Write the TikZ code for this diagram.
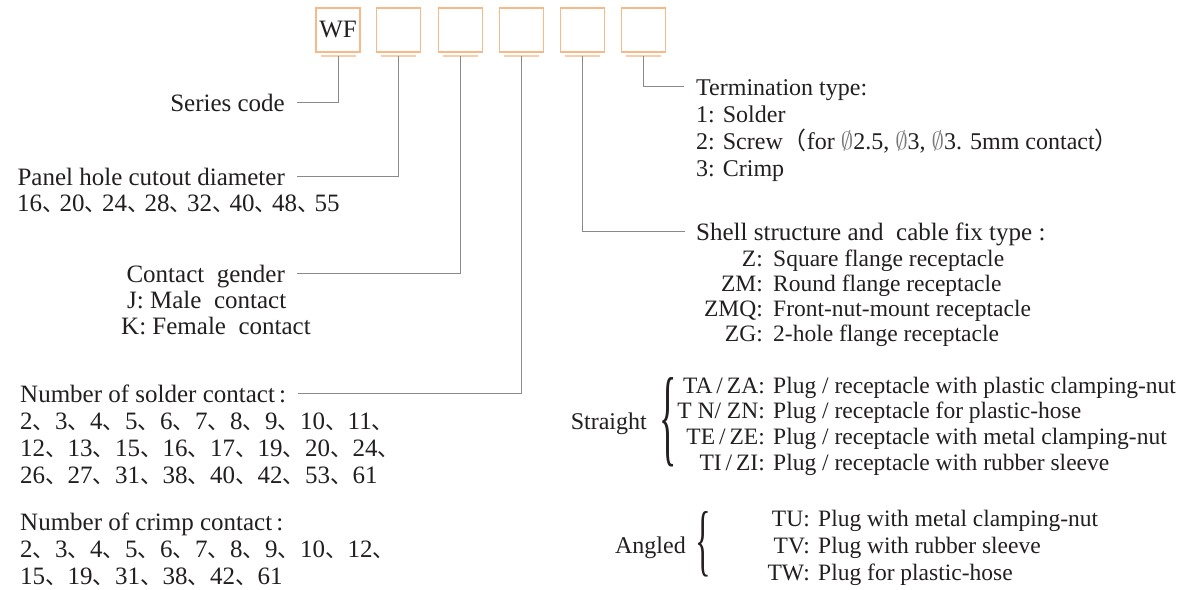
\documentclass[tikz,border=0pt]{standalone}
\usepackage{fontspec}
\usepackage{graphicx}
\setmainfont{Liberation Serif}
\newfontfamily\cjkfont{Noto Sans CJK SC}
\definecolor{boxor}{HTML}{F5B98A}
\definecolor{baror}{HTML}{F9CDA9}
\definecolor{linegray}{HTML}{8A8A8A}
\definecolor{txt}{HTML}{231F20}
\newcommand{\dun}{\makebox[0.9em][l]{\cjkfont\fontsize{22}{22}\selectfont 、}}
\newcommand{\dunn}{\makebox[0.7em][l]{\cjkfont\fontsize{22}{22}\selectfont 、}}
\newcommand{\dia}{{\color{txt!60}$\emptyset$}}
\begin{document}
\begin{tikzpicture}[x=1pt,y=-1pt,
  font=\fontsize{25}{26}\selectfont, text=txt,
  codebox/.style={draw=boxor, line width=1.3pt, minimum width=44pt, minimum height=44pt, inner sep=0pt},
  ubar/.style={fill=baror, minimum width=35pt, minimum height=2.2pt, inner sep=0pt},
  conn/.style={draw=linegray, line width=0.9pt},
  lbl/.style={inner sep=0pt, text height=19pt, text depth=0pt},
  rlbl/.style={lbl, font=\fontsize{23.5}{26}\selectfont},
  mlbl/.style={lbl, font=\fontsize{24}{26}\selectfont},
  bracenode/.style={inner sep=0pt, font=\fontsize{24}{26}\selectfont}
]
\useasboundingbox (0,0) rectangle (1183,589);
\fill[white] (0,0) rectangle (1183,589);

% code boxes
\foreach \i/\x in {1/338,2/398.7,3/460.2,4/521.3,5/582.5,6/643.5}{
  \node[ubar] (u\i) at (\x,56) {};
}
\node[codebox] (b1) at (338,30) {WF};
\node[codebox] (b2) at (398.7,30) {};
\node[codebox] (b3) at (460.2,30) {};
\node[codebox] (b4) at (521.3,30) {};
\node[codebox] (b5) at (582.5,30) {};
\node[codebox] (b6) at (643.5,30) {};

% left column
\node[lbl,anchor=east] (series) at (285,102) {Series code};
\node[lbl,anchor=east] (panel) at (285,176) {Panel hole cutout diameter};
\node[lbl,anchor=west] (panelv) at (17,202) {16\dunn 20\dunn 24\dunn 28\dunn 32\dunn 40\dunn 48\dunn 55};

\node[lbl,anchor=east] (gender) at (285,273) {Contact\ \ gender};
\node[lbl,anchor=west] (male) at (127,299) {J: Male\ \ contact};
\node[lbl,anchor=west] (female) at (121,325) {K: Female\ \ contact};

\node[lbl,anchor=west] (solder) at (20,393) {Number of solder contact\,:};
\node[lbl,anchor=west] (sv1) at (20,420) {2\dun 3\dun 4\dun 5\dun 6\dun 7\dun 8\dun 9\dun 10\dun 11\dun};
\node[lbl,anchor=west] (sv2) at (20,447) {12\dun 13\dun 15\dun 16\dun 17\dun 19\dun 20\dun 24\dun};
\node[lbl,anchor=west] (sv3) at (20,474) {26\dun 27\dun 31\dun 38\dun 40\dun 42\dun 53\dun 61};
\node[lbl,anchor=west] (crimp) at (20,521) {Number of crimp contact\,:};
\node[lbl,anchor=west] (cv1) at (20,548) {2\dun 3\dun 4\dun 5\dun 6\dun 7\dun 8\dun 9\dun 10\dun 12\dun};
\node[lbl,anchor=west] (cv2) at (20,575) {15\dun 19\dun 31\dun 38\dun 42\dun 61};

% termination
\node[mlbl,anchor=west] (term) at (696,86) {Termination type:};
\node[mlbl,anchor=west] (t1) at (696,113) {1: Solder};
\node[mlbl,anchor=west] (t2) at (696,140) {2: Screw{\cjkfont （}for \dia2.5, \dia3, \dia3. 5mm contact{\cjkfont ）}};
\node[mlbl,anchor=west] (t3) at (696,167) {3: Crimp};

% shell
\node[lbl,anchor=west] (shell) at (696,231) {Shell structure and\ \ cable fix type\ :};
\node[rlbl,anchor=east] (zl1) at (763,257) {Z:};
\node[rlbl,anchor=west] (zd1) at (773,257) {Square flange receptacle};
\node[rlbl,anchor=east] (zl2) at (763,282) {ZM:};
\node[rlbl,anchor=west] (zd2) at (773,282) {Round flange receptacle};
\node[rlbl,anchor=east] (zl3) at (763,307) {ZMQ:};
\node[rlbl,anchor=west] (zd3) at (773,307) {Front-nut-mount receptacle};
\node[rlbl,anchor=east] (zl4) at (763,332) {ZG:};
\node[rlbl,anchor=west] (zd4) at (773,332) {2-hole flange receptacle};

% straight
\node[mlbl,anchor=east] (str) at (647,420) {Straight};
\node[bracenode] (sbrace) at (668,422) {\scalebox{1.5}[4.5]{\{}};
\node[rlbl,anchor=east] (sl1) at (765,384) {TA\,/\,ZA:};
\node[rlbl,anchor=west] (sd1) at (773,384) {Plug / receptacle with plastic clamping-nut};
\node[rlbl,anchor=east] (sl2) at (765,409) {T N/ ZN:};
\node[rlbl,anchor=west] (sd2) at (773,409) {Plug / receptacle for plastic-hose};
\node[rlbl,anchor=east] (sl3) at (765,435) {TE\,/\,ZE:};
\node[rlbl,anchor=west] (sd3) at (773,435) {Plug / receptacle with metal clamping-nut};
\node[rlbl,anchor=east] (sl4) at (765,461) {TI\,/\,ZI:};
\node[rlbl,anchor=west] (sd4) at (773,461) {Plug / receptacle with rubber sleeve};

% angled
\node[mlbl,anchor=east] (ang) at (686,544) {Angled};
\node[bracenode] (abrace) at (703.5,544) {\scalebox{1.35}[3.3]{\{}};
\node[rlbl,anchor=east] (al1) at (810,517) {TU:};
\node[rlbl,anchor=west] (ad1) at (818,517) {Plug with metal clamping-nut};
\node[rlbl,anchor=east] (al2) at (810,544) {TV:};
\node[rlbl,anchor=west] (ad2) at (818,544) {Plug with rubber sleeve};
\node[rlbl,anchor=east] (al3) at (810,571) {TW:};
\node[rlbl,anchor=west] (ad3) at (818,571) {Plug for plastic-hose};

% connectors
\draw[conn] (u1.center) |- ([xshift=12pt]series.east);
\draw[conn] (u2.center) |- ([xshift=12pt]panel.east);
\draw[conn] (u3.center) |- ([xshift=12pt]gender.east);
\draw[conn] (u4.center) |- ([xshift=12pt]solder.east);
\draw[conn] (u5.center) |- ([xshift=-11pt]shell.west);
\draw[conn] (u6.center) |- ([xshift=-12pt]term.west);
\end{tikzpicture}
\end{document}
